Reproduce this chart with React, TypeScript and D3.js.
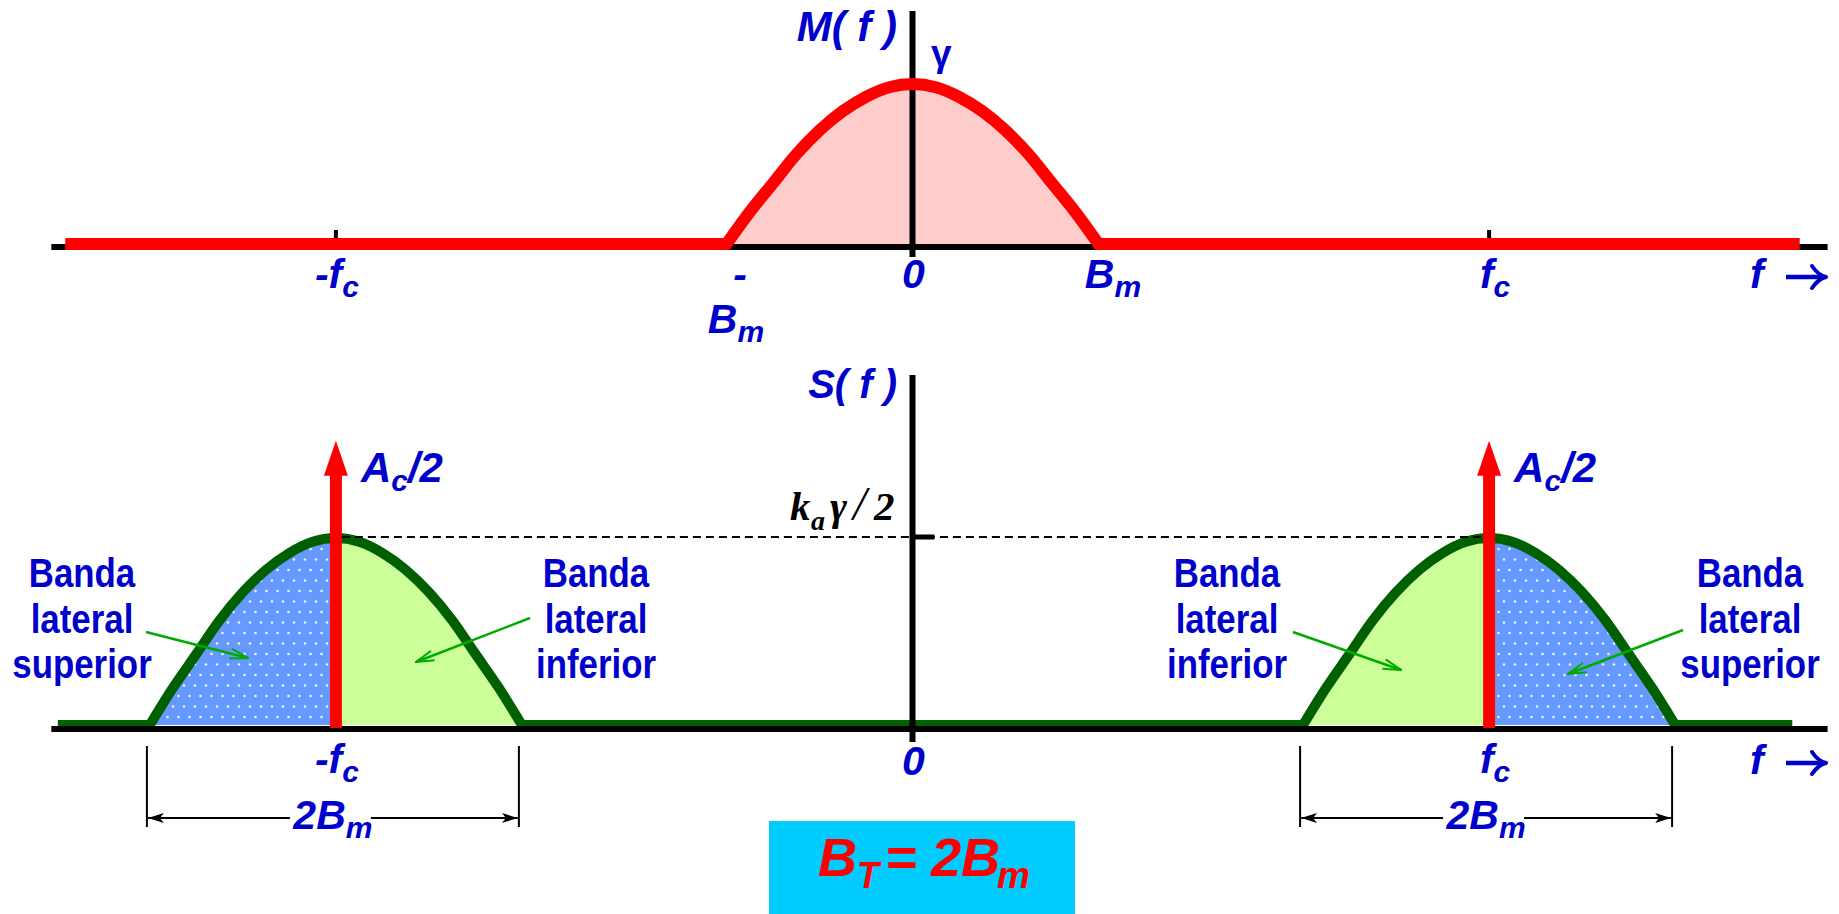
import React from 'react';
import * as d3 from 'd3';

// ---- data (frequency in units of B_m, amplitudes normalised) ----
const BM = 1;               // message bandwidth B_m
const FC = 3.1;             // carrier frequency f_c
const GAMMA = 1;            // peak of M(f)
const KA_GAMMA_HALF = 1;    // peak of each sideband pair in S(f)
const AC_HALF = 1.52;       // carrier impulse height A_c/2 (relative to k_a·γ/2)

// normalised spectrum profile: offsets (× B_m) and relative amplitude
const profileOffsets = [-1, -0.875, -0.75, -0.625, -0.5, -0.375, -0.25, -0.125, 0, 0.125, 0.25, 0.375, 0.5, 0.625, 0.75, 0.875, 1];
const profileLevels = [0, 0.2, 0.38, 0.56, 0.71, 0.83, 0.92, 0.98, 1, 0.98, 0.92, 0.83, 0.71, 0.56, 0.38, 0.2, 0];

const carrierFreqs = [-FC, FC];

// ---- layout ----
const W = 1839;
const H = 914;
const BLUE = '#0000CC';
const SANS = "'Liberation Sans', Arial, Helvetica, sans-serif";
const SERIF = "'Liberation Serif', 'Times New Roman', serif";

const x = d3.scaleLinear().domain([0, 1]).range([912.5, 1098.5]);
const yTop = d3.scaleLinear().domain([0, GAMMA]).range([244, 84]);
const yBot = d3.scaleLinear().domain([0, KA_GAMMA_HALF]).range([725, 538]);

const AXIS_EXTENT = [-4.63, 4.92];
const RED_EXTENT = [-4.555, 4.77];
const GREEN_EXTENT = [-4.595, 4.73];

type Pt = { f: number; v: number };

function pulse(center: number, amp: number): Pt[] {
  return profileOffsets.map((o, i) => ({ f: center + o * BM, v: profileLevels[i] * amp }));
}

// context that turns the curve's initial moveTo into a lineTo so segments join
function joined(p: d3.Path) {
  return {
    moveTo: (a: number, b: number) => p.lineTo(a, b),
    lineTo: (a: number, b: number) => p.lineTo(a, b),
    bezierCurveTo: (a: number, b: number, c: number, d: number, e: number, f: number) => p.bezierCurveTo(a, b, c, d, e, f),
    quadraticCurveTo: (a: number, b: number, c: number, d: number) => p.quadraticCurveTo(a, b, c, d),
    closePath: () => p.closePath(),
  } as any;
}

function spectrumPath(pulses: Pt[][], extent: number[], ys: d3.ScaleLinear<number, number>) {
  const p = d3.path();
  p.moveTo(x(extent[0]), ys(0));
  const ln = d3.line<Pt>().x(d => x(d.f)).y(d => ys(d.v)).curve(d3.curveMonotoneX).context(joined(p));
  pulses.forEach(pts => ln(pts));
  p.lineTo(x(extent[1]), ys(0));
  return p.toString();
}

function areaPath(pts: Pt[], ys: d3.ScaleLinear<number, number>) {
  return d3.area<Pt>().x(d => x(d.f)).y0(ys(0)).y1(d => ys(d.v)).curve(d3.curveMonotoneX)(pts) || '';
}

type LblProps = { cx: number; y: number; main: string; sub?: string; after?: string; size?: number; subSize?: number; anchor?: string; fill?: string };
function Lbl({ cx, y, main, sub, after, size = 41, subSize = 30, anchor = 'middle', fill = BLUE }: LblProps) {
  return (
    <text x={cx} y={y} textAnchor={anchor as any} fontFamily={SANS} fontWeight="bold" fontStyle="italic" fontSize={size} fill={fill}>
      {main}
      {sub && <tspan dy={9} fontSize={subSize}>{sub}</tspan>}
      {after && <tspan dy={-9}>{after}</tspan>}
    </text>
  );
}

// "f →" axis caption
function AxisCaption({ y }: { y: number }) {
  const ay = y - 11;
  return (
    <g>
      <Lbl cx={1750} y={y} main="f" anchor="start" />
      <path d={`M1786,${ay} L1824,${ay}`} stroke={BLUE} strokeWidth={4.5} fill="none" />
      <path d={`M1812,${ay - 11} Q1818,${ay - 2} 1826,${ay} Q1818,${ay + 2} 1812,${ay + 11}`} stroke={BLUE} strokeWidth={4} fill="none" strokeLinecap="round" strokeLinejoin="round" />
    </g>
  );
}

// condensed bold caption, three centred lines
function BandLabel({ cx, lines }: { cx: number; lines: string[] }) {
  const base = [587, 633, 678];
  return (
    <g fontFamily={SANS} fontWeight="bold" fontSize={41} fill={BLUE} textAnchor="middle">
      {lines.map((t, i) => (
        <text key={i} transform={`translate(${cx},${base[i]}) scale(0.85,1)`}>{t}</text>
      ))}
    </g>
  );
}

const pointers = [
  { from: [146, 632], to: [248, 658] },
  { from: [530, 618], to: [416, 662] },
  { from: [1293, 632], to: [1401, 670] },
  { from: [1683, 630], to: [1568, 674] },
];

function Dimension({ f0, f1, label }: { f0: number; f1: number; label: string }) {
  const a = x(f0) - 3;
  const b = x(f1) - 3;
  const c = (a + b) / 2;
  const yL = 818;
  return (
    <g>
      <line x1={a} x2={a} y1={746} y2={827} stroke="#000" strokeWidth={2} />
      <line x1={b} x2={b} y1={746} y2={827} stroke="#000" strokeWidth={2} />
      <line x1={c - 43} x2={a + 1} y1={yL} y2={yL} stroke="#000" strokeWidth={2} markerEnd="url(#dimHead)" />
      <line x1={c + 38} x2={b - 1} y1={yL} y2={yL} stroke="#000" strokeWidth={2} markerEnd="url(#dimHead)" />
      <Lbl cx={c} y={829} main={label} sub="m" />
    </g>
  );
}

export default function App() {
  React.useEffect(() => {
    document.body.style.margin = '0';
    document.body.style.overflow = 'hidden';
  }, []);

  const topPulse = pulse(0, GAMMA);
  const sidebands = carrierFreqs.map(fc => pulse(fc, KA_GAMMA_HALF));
  const zero = x(0);

  return (
    <svg width={W} height={H} style={{ position: 'absolute', left: 0, top: 0, background: '#fff' }}>
      <defs>
        <pattern id="dots" patternUnits="userSpaceOnUse" width={11} height={21}>
          <rect width={11} height={21} fill="#6699FF" />
          <circle cx={2.5} cy={3} r={1.3} fill="#EEF4FF" />
          <circle cx={8} cy={13.5} r={1.3} fill="#EEF4FF" />
        </pattern>
        <clipPath id="outerLeft"><rect x={0} y={0} width={x(-FC)} height={H} /></clipPath>
        <clipPath id="outerRight"><rect x={x(FC)} y={0} width={W - x(FC)} height={H} /></clipPath>
        <marker id="ptrHead" viewBox="0 0 20 12" refX={19} refY={6} markerWidth={20} markerHeight={12} markerUnits="userSpaceOnUse" orient="auto">
          <path d="M1,1 L19,6 L1,11" fill="none" stroke="#00AA00" strokeWidth={2} />
        </marker>
        <marker id="dimHead" viewBox="0 0 16 10" refX={16} refY={5} markerWidth={16} markerHeight={10} markerUnits="userSpaceOnUse" orient="auto">
          <path d="M0,0 L16,5 L0,10 L4,5 Z" fill="#000" />
        </marker>
      </defs>

      {/* ---------- M(f) ---------- */}
      <path d={areaPath(topPulse, yTop)} fill="#FFCCCC" />
      {[-FC, FC].map(f => (
        <line key={f} x1={x(f)} x2={x(f)} y1={230} y2={247} stroke="#000" strokeWidth={4} />
      ))}
      <line x1={x(AXIS_EXTENT[0])} x2={x(AXIS_EXTENT[1])} y1={yTop(0) + 3} y2={yTop(0) + 3} stroke="#000" strokeWidth={6} />
      <line x1={zero} x2={zero} y1={11} y2={257} stroke="#000" strokeWidth={6} />
      <line x1={zero - 13} x2={zero + 13} y1={yTop(GAMMA)} y2={yTop(GAMMA)} stroke="#000" strokeWidth={5} />
      <path d={spectrumPath([topPulse], RED_EXTENT, yTop)} fill="none" stroke="#FF0000" strokeWidth={12} strokeLinejoin="miter" />

      <text x={897} y={41} textAnchor="end" fontFamily={SANS} fontWeight="bold" fontStyle="italic" fontSize={42} fill={BLUE}>M( f )</text>
      <text x={931} y={66} fontFamily={SANS} fontWeight="bold" fontSize={37} fill={BLUE}>γ</text>

      <Lbl cx={x(-FC) + 1} y={288} main="-f" sub="c" />
      <Lbl cx={740} y={288} main="-" />
      <Lbl cx={736} y={333} main="B" sub="m" />
      <Lbl cx={zero + 1} y={288} main="0" />
      <Lbl cx={1113} y={288} main="B" sub="m" />
      <Lbl cx={x(FC) + 6} y={288} main="f" sub="c" />
      <AxisCaption y={288} />

      {/* ---------- S(f) ---------- */}
      {sidebands.map((pts, i) => (
        <g key={i}>
          <path d={areaPath(pts, yBot)} fill="#CCFF99" />
          <path d={areaPath(pts, yBot)} fill="url(#dots)" clipPath={i === 0 ? 'url(#outerLeft)' : 'url(#outerRight)'} />
        </g>
      ))}
      <path d={spectrumPath(sidebands, GREEN_EXTENT, yBot)} fill="none" stroke="#006000" strokeWidth={10} strokeLinejoin="miter" />
      <line x1={x(AXIS_EXTENT[0])} x2={x(AXIS_EXTENT[1])} y1={yBot(0) + 4} y2={yBot(0) + 4} stroke="#000" strokeWidth={6} />
      <line x1={zero} x2={zero} y1={375} y2={742} stroke="#000" strokeWidth={6} />
      <line x1={zero} x2={zero + 22} y1={yBot(KA_GAMMA_HALF) - 1} y2={yBot(KA_GAMMA_HALF) - 1} stroke="#000" strokeWidth={5} />
      <line x1={x(-FC) + 6} x2={x(FC) - 4} y1={yBot(KA_GAMMA_HALF) - 1} y2={yBot(KA_GAMMA_HALF) - 1} stroke="#000" strokeWidth={2} strokeDasharray="8 5" />

      {carrierFreqs.map(f => {
        const cx = x(f);
        const tip = yBot(AC_HALF);
        const headBase = tip + 35;
        return (
          <g key={f}>
            <rect x={cx - 6} y={headBase - 1} width={12} height={yBot(0) + 4 - headBase} fill="#FF0000" />
            <path d={`M${cx - 12},${headBase} L${cx},${tip} L${cx + 12},${headBase} Z`} fill="#FF0000" />
            <Lbl cx={cx + 25} y={482} main="A" sub="c" after="/2" size={42} anchor="start" />
          </g>
        );
      })}

      <text x={897} y={398} textAnchor="end" fontFamily={SANS} fontWeight="bold" fontStyle="italic" fontSize={40} fill={BLUE}>S( f )</text>
      <text y={520} fontFamily={SERIF} fontWeight="bold" fontStyle="italic" fontSize={41} fill="#000">
        <tspan x={790}>k</tspan>
        <tspan x={811} dy={10} fontSize={28}>a</tspan>
        <tspan x={830} dy={-10}>γ</tspan>
        <tspan x={853} fontWeight="normal" fontSize={48}>/</tspan>
        <tspan x={874}>2</tspan>
      </text>

      <BandLabel cx={82} lines={['Banda', 'lateral', 'superior']} />
      <BandLabel cx={596} lines={['Banda', 'lateral', 'inferior']} />
      <BandLabel cx={1227} lines={['Banda', 'lateral', 'inferior']} />
      <BandLabel cx={1750} lines={['Banda', 'lateral', 'superior']} />
      {pointers.map((p, i) => (
        <line key={i} x1={p.from[0]} y1={p.from[1]} x2={p.to[0]} y2={p.to[1]} stroke="#00AA00" strokeWidth={2.5} markerEnd="url(#ptrHead)" />
      ))}

      <Lbl cx={x(-FC) + 1} y={773} main="-f" sub="c" />
      <Lbl cx={zero + 1} y={775} main="0" />
      <Lbl cx={x(FC) + 6} y={773} main="f" sub="c" />
      <AxisCaption y={774} />

      <Dimension f0={-FC - BM} f1={-FC + BM} label="2B" />
      <Dimension f0={FC - BM} f1={FC + BM} label="2B" />

      {/* ---------- bandwidth box ---------- */}
      <rect x={769} y={821} width={306} height={H - 821} fill="#00CCFF" />
      <text fontFamily={SANS} fontWeight="bold" fontStyle="italic" fill="#FF0000">
        <tspan x={818} y={876} fontSize={54}>B</tspan>
        <tspan x={857} y={888} fontSize={36}>T</tspan>
        <tspan x={886} y={876} fontSize={54} fontStyle="normal">=</tspan>
        <tspan x={931} y={876} fontSize={54}>2B</tspan>
        <tspan x={997} y={888} fontSize={37}>m</tspan>
      </text>
    </svg>
  );
}
